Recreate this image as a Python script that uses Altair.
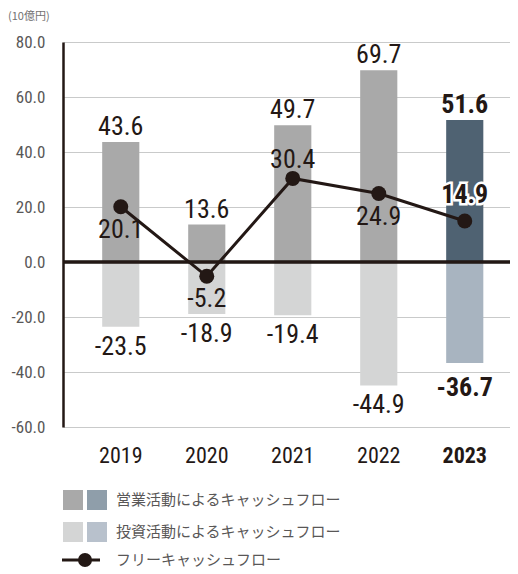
import altair as alt
import pandas as pd

years = ["2019", "2020", "2021", "2022", "2023"]
operating = [43.6, 13.6, 49.7, 69.7, 51.6]
investing = [-23.5, -18.9, -19.4, -44.9, -36.7]
fcf = [20.1, -5.2, 30.4, 24.9, 14.9]
fcf_label_pos = ["below", "below", "above", "below", "above"]
kind = ["past", "past", "past", "past", "latest"]

y_ticks = [-60, -40, -20, 0, 20, 40, 60, 80]

legend_labels = ["営業活動によるキャッシュフロー", "投資活動によるキャッシュフロー", "フリーキャッシュフロー"]

DARK = "#231815"
GRAY_TXT = "#595757"
NUM_FONT = "'Liberation Sans Narrow', 'Roboto Condensed', Roboto, sans-serif"
JP_FONT = "'Noto Sans CJK JP', sans-serif"

OP_COLORS = ["#a9a9a9", "#4f6272"]
INV_COLORS = ["#d4d5d5", "#a8b4c0"]
LEG_OP = ["#a9a9a9", "#8f9eaa"]
LEG_INV = ["#d4d5d5", "#b8c1cc"]

W, H = 447, 385

df = pd.DataFrame({
    "year": years, "operating": operating, "investing": investing,
    "fcf": fcf, "pos": fcf_label_pos, "kind": kind,
})

xenc = alt.X(
    "year:N", sort=years, title=None,
    scale=alt.Scale(paddingInner=0.568, paddingOuter=0.383, align=0.595),
    axis=alt.Axis(
        labelAngle=0, domain=False, ticks=False, grid=False,
        labelFont=NUM_FONT, labelFontSize=22, labelColor=DARK, labelPadding=18,
        labelFontWeight={"condition": {"test": "datum.value == '2023'", "value": "bold"}, "value": "normal"},
    ),
)
yscale = alt.Scale(domain=[-60, 80], nice=False, zero=False)
yaxis = alt.Axis(
    values=y_ticks, format=".1f", title=None, ticks=False,
    labelExpr="replace(datum.label, '\u2212', '-')",
    domainColor=DARK, domainWidth=2.5, gridColor="#c9caca", gridWidth=1.2,
    labelFont=NUM_FONT, labelFontSize=17, labelColor=GRAY_TXT, labelPadding=18,
)

base = alt.Chart(df).transform_calculate(
    op_lab="replace(format(datum.operating, '.1f'), '\u2212', '-')",
    inv_lab="replace(format(datum.investing, '.1f'), '\u2212', '-')",
    fcf_lab="replace(format(datum.fcf, '.1f'), '\u2212', '-')",
)

op_bar = base.mark_bar().encode(
    x=xenc,
    y=alt.Y("operating:Q", scale=yscale, axis=yaxis),
    y2=alt.datum(0),
    color=alt.Color("kind:N", scale=alt.Scale(domain=["past", "latest"], range=OP_COLORS), legend=None),
)
inv_bar = base.mark_bar().encode(
    x=alt.X("year:N", sort=years),
    y=alt.Y("investing:Q"),
    y2=alt.datum(0),
    fill=alt.Fill("kind:N", scale=alt.Scale(domain=["past", "latest"], range=INV_COLORS), legend=None),
)

zero_rule = base.mark_rule(color=DARK, strokeWidth=2.5).encode(
    y=alt.datum(0), x=alt.value(0), x2=alt.value(W)
)

line = base.mark_line(color=DARK, strokeWidth=3).encode(
    x=alt.X("year:N", sort=years), y="fcf:Q"
)
pts = base.mark_point(filled=True, size=225, color=DARK, opacity=1).encode(
    x=alt.X("year:N", sort=years), y="fcf:Q"
)

def txt(data_filter, field, lab, dy, bold=False, halo=False):
    kw = dict(font=NUM_FONT, fontSize=26, baseline="alphabetic", align="center", dy=dy,
              fontWeight="bold" if bold else "normal")
    enc = dict(x=alt.X("year:N", sort=years), y=alt.Y(f"{field}:Q"),
               text=alt.Text(f"{lab}:N"))
    layers = []
    if halo:
        layers.append(base.transform_filter(data_filter).mark_text(
            color="white", stroke="white", strokeWidth=5, **kw).encode(**enc))
    layers.append(base.transform_filter(data_filter).mark_text(color=DARK, **kw).encode(**enc))
    return layers

labels = []
labels += txt("datum.kind == 'past'", "operating", "op_lab", -7)
labels += txt("datum.kind == 'latest'", "operating", "op_lab", -7, bold=True)
labels += txt("datum.kind == 'past'", "investing", "inv_lab", 28)
labels += txt("datum.kind == 'latest'", "investing", "inv_lab", 33, bold=True)
labels += txt("datum.pos == 'below' && datum.kind == 'past'", "fcf", "fcf_lab", 31)
labels += txt("datum.pos == 'above' && datum.kind == 'past'", "fcf", "fcf_lab", -10)
labels += txt("datum.kind == 'latest'", "fcf", "fcf_lab", -18, bold=True, halo=True)

one = alt.Chart(pd.DataFrame({"k": [0]}))

unit = one.mark_text(text="(10億円)", font=JP_FONT, fontSize=11, color="#727171",
                     align="left", baseline="middle").encode(x=alt.value(-55), y=alt.value(-25))

leg = []
rows_y = [458, 490, 518]
for i, cols in enumerate([LEG_OP, LEG_INV]):
    for j, c in enumerate(cols):
        leg.append(one.mark_square(size=400, color=c, opacity=1).encode(
            x=alt.value(10 + 24 * j), y=alt.value(rows_y[i])))
leg.append(one.mark_rule(color=DARK, strokeWidth=3).encode(
    x=alt.value(-1), x2=alt.value(37), y=alt.value(rows_y[2])))
leg.append(one.mark_point(filled=True, size=196, color=DARK, opacity=1).encode(
    x=alt.value(22), y=alt.value(rows_y[2])))
for i, lab in enumerate(legend_labels):
    leg.append(one.mark_text(text=lab, font=JP_FONT, fontSize=15, color=GRAY_TXT,
                             align="left", baseline="middle").encode(
        x=alt.value(53), y=alt.value(rows_y[i])))

chart = alt.layer(op_bar, inv_bar, zero_rule, line, pts, *labels, unit, *leg).properties(
    width=W, height=H,
    autosize=alt.AutoSizeParams(type="none"),
    padding={"left": 55, "top": 34, "right": 0, "bottom": 143},
).configure_view(stroke=None)

chart.save("out.html", embed_options={"renderer": "svg", "actions": False})
